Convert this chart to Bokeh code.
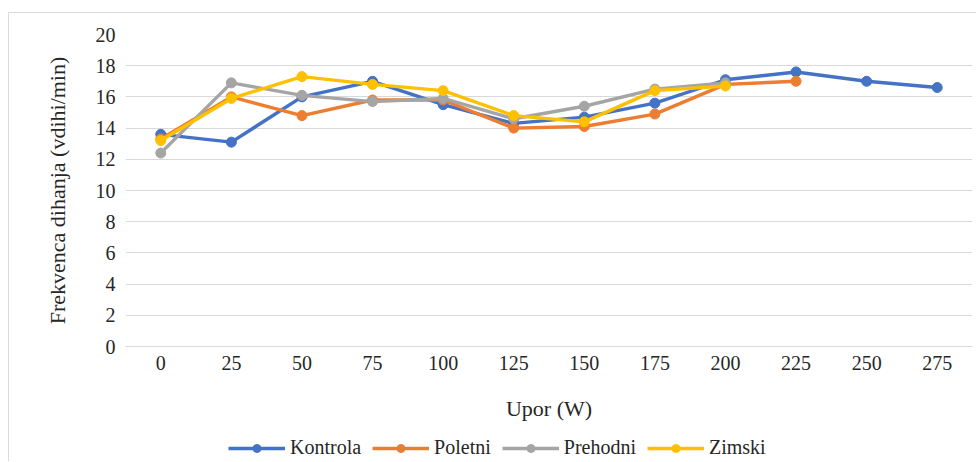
from bokeh.plotting import figure
from bokeh.layouts import column
from bokeh.models import FactorRange, Range1d, FixedTicker, Legend, LegendItem
from bokeh.embed import file_html
from bokeh.resources import INLINE

categories = ["0", "25", "50", "75", "100", "125", "150", "175", "200", "225", "250", "275"]
kontrola = [13.6, 13.1, 16.0, 17.0, 15.5, 14.3, 14.7, 15.6, 17.1, 17.6, 17.0, 16.6]
poletni = [13.3, 16.0, 14.8, 15.8, 15.8, 14.0, 14.1, 14.9, 16.8, 17.0]
prehodni = [12.4, 16.9, 16.1, 15.7, 15.9, 14.6, 15.4, 16.5, 16.9]
zimski = [13.2, 15.9, 17.3, 16.8, 16.4, 14.8, 14.4, 16.4, 16.7]
y_ticks = [0, 2, 4, 6, 8, 10, 12, 14, 16, 18, 20]

series = [
    ("Kontrola", kontrola, "#4472C4"),
    ("Poletni", poletni, "#ED7D31"),
    ("Prehodni", prehodni, "#A5A5A5"),
    ("Zimski", zimski, "#FFC000"),
]

FONT = "Liberation Serif"
TXT = "#262626"
BORDER = "1px solid #d9d9d9"
LW = 3.4
MS = 10

x_range = FactorRange(*categories, range_padding=0)

p = figure(
    x_range=x_range,
    y_range=Range1d(0, 20),
    width=968, height=417,
    output_backend="svg", toolbar_location=None,
    min_border_left=116, min_border_right=5,
    min_border_top=21, min_border_bottom=84,
    styles={"border-left": BORDER, "border-top": BORDER},
)
p.margin = (12, 0, 0, 8)
p.outline_line_color = None

for name, vals, color in series:
    xs = categories[:len(vals)]
    p.line(xs, vals, line_color=color, line_width=LW)
    p.scatter(xs, vals, marker="circle", size=MS, fill_color=color, line_color=color)

p.xgrid.grid_line_color = None
p.ygrid.grid_line_color = "#d9d9d9"
p.ygrid.grid_line_width = 1

p.yaxis.ticker = FixedTicker(ticks=y_ticks)
p.yaxis.axis_line_color = None
p.yaxis.major_tick_line_color = None
p.yaxis.minor_tick_line_color = None
p.yaxis.major_label_text_font = FONT
p.yaxis.major_label_text_font_size = "20px"
p.yaxis.major_label_text_color = TXT
p.yaxis.major_label_standoff = 4
p.yaxis.axis_label = "Frekvenca dihanja (vdihi/min)"
p.yaxis.axis_label_text_font = FONT
p.yaxis.axis_label_text_font_size = "22px"
p.yaxis.axis_label_text_font_style = "normal"
p.yaxis.axis_label_text_color = TXT
p.yaxis.axis_label_standoff = 23

p.xaxis.axis_line_color = "#d9d9d9"
p.xaxis.major_tick_line_color = None
p.xaxis.minor_tick_line_color = None
p.xaxis.major_label_text_font = FONT
p.xaxis.major_label_text_font_size = "20px"
p.xaxis.major_label_text_color = TXT
p.xaxis.major_label_standoff = 3
p.xaxis.axis_label = "Upor (W)"
p.xaxis.axis_label_text_font = FONT
p.xaxis.axis_label_text_font_size = "22px"
p.xaxis.axis_label_text_font_style = "normal"
p.xaxis.axis_label_text_color = TXT
p.xaxis.axis_label_standoff = 23

# legend strip below the chart: the series are drawn again here but fall
# outside this strip's y window, so only the legend entries are visible
q = figure(
    x_range=x_range, y_range=Range1d(-2, -1),
    width=968, height=32,
    output_backend="svg", toolbar_location=None,
    x_axis_type=None, y_axis_type=None,
    min_border=0, styles={"border-left": BORDER},
)
q.margin = (0, 0, 0, 8)
q.outline_line_color = None
q.xgrid.grid_line_color = None
q.ygrid.grid_line_color = None

items = []
for name, vals, color in series:
    xs = categories[:len(vals)]
    r1 = q.line(xs, vals, line_color=color, line_width=LW)
    r2 = q.scatter(xs, vals, marker="circle", size=MS, fill_color=color, line_color=color)
    items.append(LegendItem(label=name, renderers=[r1, r2]))

legend = Legend(
    items=items, orientation="horizontal", location=(103, 2),
    glyph_width=57, glyph_height=20, label_standoff=5, spacing=11,
    padding=0, margin=0, border_line_color=None, background_fill_alpha=0,
    label_text_font=FONT, label_text_font_size="20px", label_text_color=TXT,
)
q.add_layout(legend, "center")

layout = column(p, q, spacing=0)
open("out.html", "w").write(file_html(layout, INLINE))
